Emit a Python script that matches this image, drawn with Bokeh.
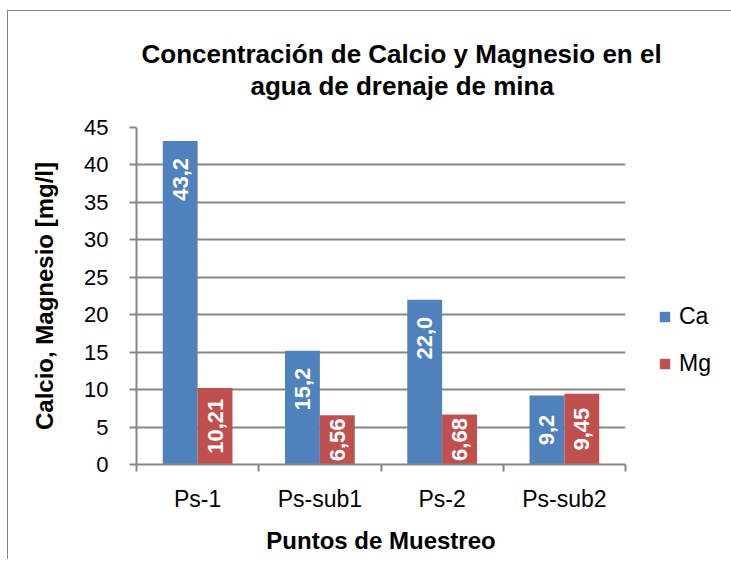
import math
from bokeh.plotting import figure
from bokeh.models import (ColumnDataSource, Range1d, FixedTicker, Title, Legend, LegendItem)
from bokeh.transform import dodge
from bokeh.core.properties import value
from bokeh.embed import file_html
from bokeh.resources import INLINE

# ---- data ----
categories = ["Ps-1", "Ps-sub1", "Ps-2", "Ps-sub2"]
ca_values = [43.2, 15.2, 22.0, 9.2]
mg_values = [10.21, 6.56, 6.68, 9.45]
ca_labels = ["43,2", "15,2", "22,0", "9,2"]
mg_labels = ["10,21", "6,56", "6,68", "9,45"]
y_ticks = [0, 5, 10, 15, 20, 25, 30, 35, 40, 45]

CA_COLOR = "#4F81BD"
MG_COLOR = "#C0504D"
GRAY = "#868686"
FONT = "Liberation Sans"

centers = [i + 0.5 for i in range(len(categories))]
BAR_W = 0.285
OFF = BAR_W / 2

p = figure(frame_width=489, frame_height=337, output_backend="svg", toolbar_location=None,
           x_range=Range1d(0, len(categories)), y_range=Range1d(0, 45),
           min_border_left=128, min_border_right=90, min_border_top=116, min_border_bottom=95)
p.outline_line_color = None
p.background_fill_color = "white"
p.border_fill_color = "white"
p.styles = {"margin-left": "7px", "margin-top": "10px",
            "border-left": f"1px solid {GRAY}", "border-top": f"1px solid {GRAY}"}

src = ColumnDataSource(dict(x=centers, ca=ca_values, mg=mg_values))
r_ca = p.vbar(x=dodge("x", -OFF), top="ca", width=BAR_W, source=src,
              fill_color=CA_COLOR, line_color=None)
r_mg = p.vbar(x=dodge("x", OFF), top="mg", width=BAR_W, source=src,
              fill_color=MG_COLOR, line_color=None)

# bar labels: inside end for tall bars, centred for short ones
PAD = 2.27
def label_sources(vals, labs, dx):
    end = dict(x=[], y=[], t=[])
    cen = dict(x=[], y=[], t=[])
    for c, v, t in zip(centers, vals, labs):
        if v >= 12:
            end["x"].append(c + dx); end["y"].append(v - PAD); end["t"].append(t)
        else:
            cen["x"].append(c + dx); cen["y"].append(v / 2); cen["t"].append(t)
    return end, cen

for vals, labs, dx in [(ca_values, ca_labels, -OFF), (mg_values, mg_labels, OFF)]:
    end, cen = label_sources(vals, labs, dx)
    for d, align in [(end, "right"), (cen, "center")]:
        if d["x"]:
            p.text(x="x", y="y", text="t", source=ColumnDataSource(d), angle=math.pi / 2,
                   text_align=align, text_baseline="middle", text_color="white",
                   text_font=value(FONT), text_font_style="bold", text_font_size="22px")

# axes
xa = p.xaxis[0]
xa.ticker = FixedTicker(ticks=centers, minor_ticks=list(range(len(categories) + 1)))
xa.major_label_overrides = {c: n for c, n in zip(centers, categories)}
xa.major_tick_out = 0
xa.major_tick_in = 0
xa.minor_tick_out = 7
xa.minor_tick_in = 0
xa.minor_tick_line_color = GRAY
xa.minor_tick_line_width = 2
xa.axis_line_color = GRAY
xa.axis_line_width = 2
xa.major_label_text_font = FONT
xa.major_label_text_font_size = "23px"
xa.major_label_text_color = "black"
xa.major_label_standoff = 14
xa.axis_label = "Puntos de Muestreo"
xa.axis_label_text_font = FONT
xa.axis_label_text_font_style = "bold"
xa.axis_label_text_font_size = "24px"
xa.axis_label_text_color = "black"
xa.axis_label_standoff = 12

ya = p.yaxis[0]
ya.ticker = FixedTicker(ticks=y_ticks)
ya.major_tick_out = 7
ya.major_tick_in = 0
ya.minor_tick_out = 0
ya.minor_tick_in = 0
ya.major_tick_line_color = GRAY
ya.major_tick_line_width = 2
ya.axis_line_color = GRAY
ya.axis_line_width = 2
ya.major_label_text_font = FONT
ya.major_label_text_font_size = "22px"
ya.major_label_text_color = "black"
ya.major_label_standoff = 21
ya.axis_label = "Calcio, Magnesio [mg/l]"
ya.axis_label_text_font = FONT
ya.axis_label_text_font_style = "bold"
ya.axis_label_text_font_size = "24px"
ya.axis_label_text_color = "black"
ya.axis_label_standoff = 23

p.xgrid.grid_line_color = None
p.ygrid.ticker = FixedTicker(ticks=y_ticks)
p.ygrid.grid_line_color = GRAY
p.ygrid.grid_line_width = 2

# title (two lines); panels stack outward from the plot, so add inner first
p.title.visible = False
TITLE_KW = dict(align="left", text_font=FONT, text_font_style="bold",
                text_font_size="26px", text_color="black")
p.add_layout(Title(text=" ", text_font_size="1px", standoff=24), "above")
p.add_layout(Title(text="agua de drenaje de mina", offset=114, standoff=0, **TITLE_KW), "above")
p.add_layout(Title(text="Concentración de Calcio y Magnesio en el", offset=5, standoff=0,
                   **TITLE_KW), "above")

legend = Legend(items=[LegendItem(label="Ca", renderers=[r_ca]),
                       LegendItem(label="Mg", renderers=[r_mg])],
                location=(33, 87), orientation="vertical")
legend.glyph_width = 13
legend.glyph_height = 13
legend.label_height = 26
legend.spacing = 20
legend.padding = 0
legend.margin = 0
legend.label_standoff = 8
legend.border_line_color = None
legend.background_fill_alpha = 0
legend.label_text_font = FONT
legend.label_text_font_size = "23px"
legend.label_text_color = "black"
p.add_layout(legend, "right")

open("out.html", "w").write(file_html(p, INLINE))
